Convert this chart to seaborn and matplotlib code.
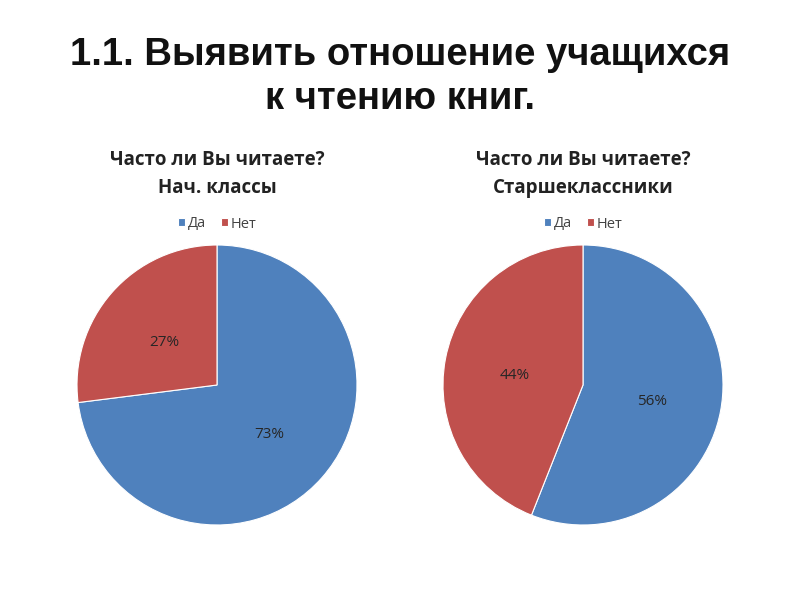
import matplotlib
matplotlib.use("Agg")
import matplotlib.pyplot as plt
import seaborn as sns
from matplotlib import font_manager

categories = ["Да", "Нет"]
junior = [73, 27]
senior = [56, 44]
titles = ["Часто ли Вы читаете?\nНач. классы", "Часто ли Вы читаете?\nСтаршеклассники"]
main_title = "1.1. Выявить отношение учащихся\nк чтению книг."

sns.set_theme(style="white")
colors = ["#4F81BD", "#C0504D"]

names = {f.name for f in font_manager.fontManager.ttflist}
head_font = "Liberation Sans Narrow" if "Liberation Sans Narrow" in names else "Liberation Sans"
plt.rcParams["font.family"] = ["Open Sans", "DejaVu Sans"]

fig = plt.figure(figsize=(8, 6), dpi=100)
fig.patch.set_facecolor("white")

fig.text(0.5, 1 - 77 / 600, main_title, ha="center", va="center", fontsize=27.5,
         fontweight="bold", family=head_font, color="#111111", linespacing=1.32)

centers = [217, 583]
for cx, vals, t in zip(centers, [junior, senior], titles):
    w, h = 280 / 800, 280 / 600
    ax = fig.add_axes([cx / 800 - w / 2, 1 - 385 / 600 - h / 2, w, h])
    wedges, _, autotexts = ax.pie(vals, colors=colors, startangle=90, counterclock=False,
                                  autopct="%d%%", pctdistance=0.5,
                                  wedgeprops=dict(edgecolor="white", linewidth=0.8),
                                  textprops=dict(fontsize=11, color="#262626"))
    for a in autotexts:
        x, y = a.get_position()
        a.set_position((x, y - 0.025))
    ax.set_xlim(-1, 1)
    ax.set_ylim(-1, 1)
    ax.set_aspect("equal")
    fig.text(cx / 800, 1 - 174 / 600, t, ha="center", va="center", fontsize=13.5,
             fontweight="bold", color="#222222", linespacing=1.5)
    leg = fig.legend(wedges, categories, loc="center", bbox_to_anchor=(cx / 800, 1 - 224 / 600),
                     ncol=2, frameon=False, fontsize=10.5, handlelength=0.5, handleheight=0.5,
                     handletextpad=0.2, columnspacing=1.0)
    for txt in leg.get_texts():
        txt.set_color("#444444")

fig.savefig("out.png", dpi=100, facecolor="white")
